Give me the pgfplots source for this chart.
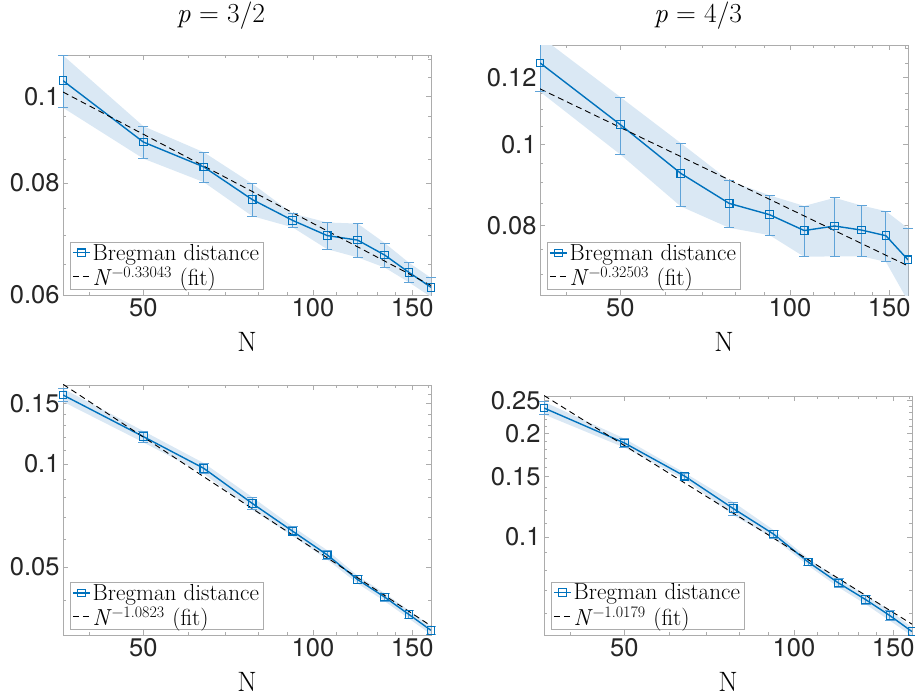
\documentclass[border=0pt]{standalone}
\usepackage{fontspec}
\newfontfamily\hel{TeX Gyre Heros}
\usepackage{pgfplots}
\pgfplotsset{compat=1.18}

\definecolor{mblue}{RGB}{0,114,189}
\definecolor{mband}{RGB}{218,232,244}
\definecolor{merr}{RGB}{95,163,216}

% exponent of the fitted power law, set as a superscript in text
\newcommand{\fitlabel}[1]{\textit{N}\/\raisebox{8pt}{\fontsize{16}{16}\selectfont −#1}\hspace{0.35em}(fit)}

\begin{document}
\begin{tikzpicture}
\useasboundingbox (0,0) rectangle (915pt,700pt);

% ---- p = 3/2, top
\begin{loglogaxis}[at={(63pt,405pt)}, anchor=south west,
  scale only axis, width=368pt, height=240pt,
  xmin=36, xmax=162, ymin=0.06, ymax=0.1112,
  xtick={50,100,150}, xticklabels={50,100,150},
  minor xtick={40,60,70,80,90,110,120,130,140,160},
  ytick={0.06,0.08,0.1}, yticklabels={0.06,0.08,0.1},
  minor ytick={0.065,0.07,0.075,0.085,0.09,0.095,0.105,0.11},
  axis line style={gray!65, line width=0.6pt},
  tick style={gray!65, line width=0.6pt},
  major tick length=5pt, minor tick length=3pt,
  tick label style={font=\hel\fontsize{25.5}{28}\selectfont, color=black!85},
  xlabel={N}, xlabel style={font=\fontsize{28}{30}\selectfont, yshift=-9pt},
  title={\fontsize{27.5}{30}\selectfont\textit{p} = 3/2}, title style={xshift=-26pt, yshift=16pt},
  legend cell align=left,
  legend style={at={(0,0)}, anchor=south west, xshift=7pt, yshift=6pt,
    draw=gray!65, fill=white, font=\fontsize{23.2}{26}\selectfont,
    inner xsep=2pt, inner ysep=0pt, row sep=1pt}]
\addplot[fill=mband, draw=none, forget plot] coordinates {
  (36,0.1111)(50,0.0926)(64,0.0866)(78,0.0799)(92,0.0740)(106,0.0723)(120,0.0721)(134,0.0686)(148,0.0652)(162,0.0627)
  (162,0.0597)(148,0.0620)(134,0.0644)(120,0.0661)(106,0.0675)(92,0.0714)(78,0.0735)(64,0.0802)(50,0.0852)(36,0.0971)} -- cycle;
\addplot[merr, line width=0.8pt, unbounded coords=jump, forget plot] coordinates {
  (36,0.0971)(36,0.1111)(36,nan) (50,0.0852)(50,0.0926)(50,nan) (64,0.0802)(64,0.0866)(64,nan)
  (78,0.0735)(78,0.0799)(78,nan) (92,0.0714)(92,0.0740)(92,nan) (106,0.0675)(106,0.0723)(106,nan)
  (120,0.0661)(120,0.0721)(120,nan) (134,0.0644)(134,0.0686)(134,nan) (148,0.0620)(148,0.0652)(148,nan)
  (162,0.0597)(162,0.0627)};
\addplot[merr, only marks, mark=-, mark size=5pt, mark options={line width=0.8pt}, forget plot] coordinates {
  (36,0.0971)(36,0.1111)(50,0.0852)(50,0.0926)(64,0.0802)(64,0.0866)(78,0.0735)(78,0.0799)
  (92,0.0714)(92,0.0740)(106,0.0675)(106,0.0723)(120,0.0661)(120,0.0721)(134,0.0644)(134,0.0686)
  (148,0.0620)(148,0.0652)(162,0.0627)};
\addplot[mblue, line width=1.4pt, mark=square, mark size=3.8pt, mark options={solid, mblue, line width=1.1pt}] coordinates {
  (36,0.1041)(50,0.0889)(64,0.0834)(78,0.0767)(92,0.0727)(106,0.0699)(120,0.0691)(134,0.0665)(148,0.0636)(162,0.0612)};
\addlegendentry{Bregman distance}
\addplot[black, line width=0.9pt, dash pattern=on 6pt off 4pt] coordinates {(36,0.1011) (162,0.0615)};
\addlegendentry{\fitlabel{0.33043}}
\end{loglogaxis}

% ---- p = 4/3, top
\begin{loglogaxis}[at={(540pt,405pt)}, anchor=south west,
  scale only axis, width=368pt, height=250pt,
  xmin=36, xmax=162, ymin=0.0661, ymax=0.1313,
  xtick={50,100,150}, xticklabels={50,100,150},
  minor xtick={40,60,70,80,90,110,120,130,140,160},
  ytick={0.08,0.1,0.12}, yticklabels={0.08,0.1,0.12},
  minor ytick={0.07,0.075,0.085,0.09,0.095,0.105,0.11,0.115,0.125,0.13},
  axis line style={gray!65, line width=0.6pt},
  tick style={gray!65, line width=0.6pt},
  major tick length=5pt, minor tick length=3pt,
  tick label style={font=\hel\fontsize{25.5}{28}\selectfont, color=black!85},
  xlabel={N}, xlabel style={font=\fontsize{28}{30}\selectfont, yshift=-9pt},
  title={\fontsize{27.5}{30}\selectfont\textit{p} = 4/3}, title style={xshift=-26pt, yshift=6pt},
  legend cell align=left,
  legend style={at={(0,0)}, anchor=south west, xshift=7pt, yshift=6pt,
    draw=gray!65, fill=white, font=\fontsize{23.2}{26}\selectfont,
    inner xsep=2pt, inner ysep=0pt, row sep=1pt}]
\addplot[fill=mband, draw=none, forget plot] coordinates {
  (36,0.1345)(50,0.1138)(64,0.1003)(78,0.0905)(92,0.0869)(106,0.0844)(120,0.0863)(134,0.0845)(148,0.0832)(162,0.0794)
  (162,0.0650)(148,0.0724)(134,0.0735)(120,0.0735)(106,0.0734)(92,0.0779)(78,0.0795)(64,0.0843)(50,0.0972)(36,0.1155)} -- cycle;
\addplot[merr, line width=0.8pt, unbounded coords=jump, forget plot] coordinates {
  (36,0.1155)(36,0.1345)(36,nan) (50,0.0972)(50,0.1138)(50,nan) (64,0.0843)(64,0.1003)(64,nan)
  (78,0.0795)(78,0.0905)(78,nan) (92,0.0779)(92,0.0869)(92,nan) (106,0.0734)(106,0.0844)(106,nan)
  (120,0.0735)(120,0.0863)(120,nan) (134,0.0735)(134,0.0845)(134,nan) (148,0.0724)(148,0.0832)(148,nan)
  (162,0.0650)(162,0.0794)};
\addplot[merr, only marks, mark=-, mark size=5pt, mark options={line width=0.8pt}, forget plot] coordinates {
  (36,0.1155)(50,0.0972)(50,0.1138)(64,0.0843)(64,0.1003)(78,0.0795)(78,0.0905)
  (92,0.0779)(92,0.0869)(106,0.0734)(106,0.0844)(120,0.0735)(120,0.0863)(134,0.0735)(134,0.0845)
  (148,0.0724)(148,0.0832)(162,0.0794)};
\addplot[mblue, line width=1.4pt, mark=square, mark size=3.8pt, mark options={solid, mblue, line width=1.1pt}] coordinates {
  (36,0.1250)(50,0.1055)(64,0.0923)(78,0.0850)(92,0.0824)(106,0.0789)(120,0.0799)(134,0.0790)(148,0.0778)(162,0.0728)};
\addlegendentry{Bregman distance}
\addplot[black, line width=0.9pt, dash pattern=on 6pt off 4pt] coordinates {(36,0.1164) (162,0.0716)};
\addlegendentry{\fitlabel{0.32503}}
\end{loglogaxis}

% ---- p = 3/2, bottom
\begin{loglogaxis}[at={(63pt,65pt)}, anchor=south west,
  scale only axis, width=368pt, height=250pt,
  xmin=36, xmax=162, ymin=0.0316, ymax=0.1702,
  xtick={50,100,150}, xticklabels={50,100,150},
  minor xtick={40,60,70,80,90,110,120,130,140,160},
  ytick={0.05,0.1,0.15}, yticklabels={0.05,0.1,0.15},
  minor ytick={0.04,0.06,0.07,0.08,0.09,0.11,0.12,0.13,0.14,0.16,0.17},
  axis line style={gray!65, line width=0.6pt},
  tick style={gray!65, line width=0.6pt},
  major tick length=5pt, minor tick length=3pt,
  tick label style={font=\hel\fontsize{25.5}{28}\selectfont, color=black!85},
  xlabel={N}, xlabel style={font=\fontsize{28}{30}\selectfont, yshift=-9pt},
  legend cell align=left,
  legend style={at={(0,0)}, anchor=south west, xshift=7pt, yshift=6pt,
    draw=gray!65, fill=white, font=\fontsize{23.2}{26}\selectfont,
    inner xsep=2pt, inner ysep=0pt, row sep=1pt}]
\addplot[fill=mband, draw=none, forget plot] coordinates {
  (36,0.1661)(50,0.1248)(64,0.1006)(78,0.0800)(92,0.0656)(106,0.0559)(120,0.0471)(134,0.0419)(148,0.0373)(162,0.0335)
  (162,0.0317)(148,0.0353)(134,0.0397)(120,0.0447)(106,0.0525)(92,0.0616)(78,0.0734)(64,0.0936)(50,0.1156)(36,0.1521)} -- cycle;
\addplot[merr, line width=0.8pt, unbounded coords=jump, forget plot] coordinates {
  (36,0.1521)(36,0.1661)(36,nan) (50,0.1156)(50,0.1248)(50,nan) (64,0.0936)(64,0.1006)(64,nan)
  (78,0.0734)(78,0.0800)(78,nan) (92,0.0616)(92,0.0656)(92,nan) (106,0.0525)(106,0.0559)(106,nan)
  (120,0.0447)(120,0.0471)(120,nan) (134,0.0397)(134,0.0419)(134,nan) (148,0.0353)(148,0.0373)(148,nan)
  (162,0.0317)(162,0.0335)};
\addplot[merr, only marks, mark=-, mark size=5pt, mark options={line width=0.8pt}, forget plot] coordinates {
  (36,0.1521)(36,0.1661)(50,0.1156)(50,0.1248)(64,0.0936)(64,0.1006)(78,0.0734)(78,0.0800)
  (92,0.0616)(92,0.0656)(106,0.0525)(106,0.0559)(120,0.0447)(120,0.0471)(134,0.0397)(134,0.0419)
  (148,0.0353)(148,0.0373)(162,0.0317)(162,0.0335)};
\addplot[mblue, line width=1.4pt, mark=square, mark size=3.8pt, mark options={solid, mblue, line width=1.1pt}] coordinates {
  (36,0.1591)(50,0.1202)(64,0.0971)(78,0.0767)(92,0.0636)(106,0.0542)(120,0.0459)(134,0.0408)(148,0.0363)(162,0.0326)};
\addlegendentry{Bregman distance}
\addplot[black, line width=0.9pt, dash pattern=on 6pt off 4pt] coordinates {(36,0.1710) (162,0.0336)};
\addlegendentry{\fitlabel{1.0823}}
\end{loglogaxis}

% ---- p = 4/3, bottom
\begin{loglogaxis}[at={(544pt,65pt)}, anchor=south west,
  scale only axis, width=368pt, height=239pt,
  xmin=36, xmax=162, ymin=0.0519, ymax=0.2572,
  xtick={50,100,150}, xticklabels={50,100,150},
  minor xtick={40,60,70,80,90,110,120,130,140,160},
  ytick={0.1,0.15,0.2,0.25}, yticklabels={0.1,0.15,0.2,0.25},
  minor ytick={0.06,0.07,0.08,0.09,0.11,0.12,0.13,0.14,0.16,0.17,0.18,0.19,0.21,0.22,0.23,0.24},
  axis line style={gray!65, line width=0.6pt},
  tick style={gray!65, line width=0.6pt},
  major tick length=5pt, minor tick length=3pt,
  tick label style={font=\hel\fontsize{25.5}{28}\selectfont, color=black!85},
  xlabel={N}, xlabel style={font=\fontsize{28}{30}\selectfont, yshift=-9pt},
  legend cell align=left,
  legend style={at={(0,0)}, anchor=south west, xshift=7pt, yshift=6pt,
    draw=gray!65, fill=white, font=\fontsize{23.2}{26}\selectfont,
    inner xsep=2pt, inner ysep=0pt, row sep=1pt}]
\addplot[fill=mband, draw=none, forget plot] coordinates {
  (36,0.2473)(50,0.1935)(64,0.1536)(78,0.1265)(92,0.1048)(106,0.0866)(120,0.0756)(134,0.0678)(148,0.0611)(162,0.0546)
  (162,0.0516)(148,0.0571)(134,0.0638)(120,0.0714)(106,0.0826)(92,0.0992)(78,0.1157)(64,0.1470)(50,0.1821)(36,0.2273)} -- cycle;
\addplot[merr, line width=0.8pt, unbounded coords=jump, forget plot] coordinates {
  (36,0.2273)(36,0.2473)(36,nan) (50,0.1821)(50,0.1935)(50,nan) (64,0.1470)(64,0.1536)(64,nan)
  (78,0.1157)(78,0.1265)(78,nan) (92,0.0992)(92,0.1048)(92,nan) (106,0.0826)(106,0.0866)(106,nan)
  (120,0.0714)(120,0.0756)(120,nan) (134,0.0638)(134,0.0678)(134,nan) (148,0.0571)(148,0.0611)(148,nan)
  (162,0.0516)(162,0.0546)};
\addplot[merr, only marks, mark=-, mark size=5pt, mark options={line width=0.8pt}, forget plot] coordinates {
  (36,0.2273)(36,0.2473)(50,0.1821)(50,0.1935)(64,0.1470)(64,0.1536)(78,0.1157)(78,0.1265)
  (92,0.0992)(92,0.1048)(106,0.0826)(106,0.0866)(120,0.0714)(120,0.0756)(134,0.0638)(134,0.0678)
  (148,0.0571)(148,0.0611)(162,0.0546)};
\addplot[mblue, line width=1.4pt, mark=square, mark size=3.8pt, mark options={solid, mblue, line width=1.1pt}] coordinates {
  (36,0.2373)(50,0.1878)(64,0.1503)(78,0.1211)(92,0.1020)(106,0.0846)(120,0.0735)(134,0.0658)(148,0.0591)(162,0.0531)};
\addlegendentry{Bregman distance}
\addplot[black, line width=0.9pt, dash pattern=on 6pt off 4pt] coordinates {(36,0.2580) (162,0.0558)};
\addlegendentry{\fitlabel{1.0179}}
\end{loglogaxis}
\end{tikzpicture}
\end{document}
